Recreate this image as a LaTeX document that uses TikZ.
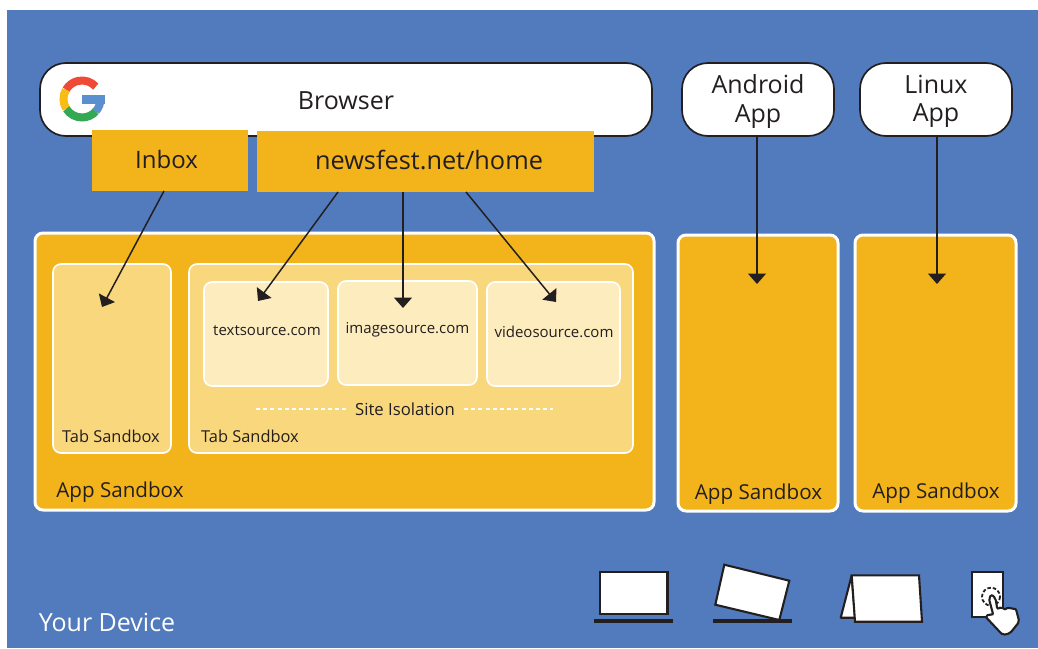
\documentclass[tikz,border=0pt]{standalone}
\usepackage{fontspec}
\setmainfont{Open Sans}
\usetikzlibrary{arrows.meta}

\definecolor{devblue}{RGB}{82,123,189}
\definecolor{sandgold}{RGB}{243,179,27}
\definecolor{tabgold}{RGB}{249,215,124}
\definecolor{sitegold}{RGB}{253,236,189}
\definecolor{inkdark}{RGB}{35,31,32}

\tikzset{
	appbox/.style={draw=inkdark,fill=white,line width=1.7,rounded corners=26,inner sep=0,outer sep=0},
	tabbar/.style={fill=sandgold,inner sep=0,outer sep=0},
	sandbox/.style={draw=white,fill=sandgold,line width=3,rounded corners=8,inner sep=0,outer sep=0},
	tabbox/.style={draw=white,fill=tabgold,line width=1.6,rounded corners=8,inner sep=0,outer sep=0},
	sitebox/.style={draw=white,fill=sitegold,line width=1.6,rounded corners=8,inner sep=0,outer sep=0},
	applabel/.style={text=inkdark,inner sep=0,align=center,font=\fontsize{25}{28.5}\selectfont},
	biglabel/.style={text=inkdark,inner sep=0,font=\fontsize{25.3}{29}\selectfont},
	midlabel/.style={text=inkdark,inner sep=0,font=\fontsize{20.6}{24}\selectfont},
	smalllabel/.style={text=inkdark,inner sep=0,font=\fontsize{16.4}{19}\selectfont},
	sitelabel/.style={text=inkdark,inner sep=0,font=\fontsize{15}{17}\selectfont},
	flow/.style={draw=inkdark,line width=1.5,-{Triangle[width=18,length=10.5]}},
	icon/.style={draw=inkdark,fill=white,line width=2.1,line join=miter},
	iconbase/.style={draw=inkdark,line width=3.2},
}

\begin{document}
\begin{tikzpicture}
	[x=1pt,y=-1pt]

\useasboundingbox (0,0) rectangle (1038,648);
\fill[devblue] (7,10) rectangle (1038,648);

	% top row
	\node[appbox,minimum width=612,minimum height=73] (browser) at (346,99.5) {};
	\node[appbox,minimum width=152,minimum height=73] (android) at (758,99.5) {};
	\node[appbox,minimum width=152,minimum height=73] (linux) at (936,99.5) {};
	\node[applabel] (browserlabel) at (346,100.5) {Browser};
	\node[applabel] (androidlabel) at (758,101.5) {Android\\App};
	\node[applabel] (linuxlabel) at (936,101.5) {Linux\\App};

	\node[tabbar,minimum width=156,minimum height=61] (inbox) at (170,160.5) {};
	\node[tabbar,minimum width=337,minimum height=61] (news) at (425.5,161.5) {};
	\node[applabel,font=\fontsize{24}{29}\selectfont] (inboxlabel) at (166.5,159) {Inbox};
	\node[biglabel] (newslabel) at (429,160) {newsfest.net/home};

	% sandboxes
	\node[sandbox,minimum width=619,minimum height=277] (mainsand) at (344.5,371.5) {};
	\node[sandbox,minimum width=160,minimum height=276] (androidsand) at (758,373) {};
	\node[sandbox,minimum width=161,minimum height=276] (linuxsand) at (935.5,373) {};
	\node[midlabel] (mainsandlabel) at (120,492) {App Sandbox};
	\node[midlabel] (androidsandlabel) at (758.5,494) {App Sandbox};
	\node[midlabel] (linuxsandlabel) at (936,493) {App Sandbox};

	\node[tabbox,minimum width=118,minimum height=189] (tabone) at (112,358.5) {};
	\node[tabbox,minimum width=444,minimum height=189] (tabtwo) at (411,358.5) {};
	\node[smalllabel] (tabonelabel) at (111,436.5) {Tab Sandbox};
	\node[smalllabel] (tabtwolabel) at (250,436.5) {Tab Sandbox};

	\node[sitebox,minimum width=124,minimum height=104] (textbox) at (266,334) {};
	\node[sitebox,minimum width=139,minimum height=104] (imagebox) at (407.5,333) {};
	\node[sitebox,minimum width=133,minimum height=104] (videobox) at (553.5,334) {};
	\node[sitelabel] (textlabel) at (267,331) {textsource.com};
	\node[sitelabel] (imagelabel) at (407.5,330) {imagesource.com};
	\node[sitelabel] (videolabel) at (554,332) {videosource.com};

	\node[smalllabel,font=\fontsize{16.7}{19}\selectfont] (isolation) at (405,409.5) {Site Isolation};
	\coordinate (dashleft) at (256,409);
	\coordinate (dashright) at (553,409);
	\draw[white,line width=1.2,dash pattern=on 4 off 3.2] (dashleft)--([xshift=-9,yshift=.5]isolation.west);
	\draw[white,line width=1.2,dash pattern=on 4 off 3.2] ([xshift=9,yshift=.5]isolation.east)--(dashright);

	\node[text=white,inner sep=0,font=\fontsize{25}{30}\selectfont] (device) at (107,622.5) {Your Device};

	% arrows
	\coordinate (tiptab) at (102,307);
	\coordinate (tiptext) at (258,301);
	\coordinate (tipimage) at (403,308);
	\coordinate (tipvideo) at (556,302);
	\coordinate (tipandroid) at (757,284);
	\coordinate (tiplinux) at (937,284);
	\draw[flow] ([xshift=-6]inbox.south)--(tiptab);
	\draw[flow] ([xshift=-87.5]news.south)--(tiptext);
	\draw[flow] (news.south -| tipimage)--(tipimage);
	\draw[flow] ([xshift=40.5]news.south)--(tipvideo);
	\draw[flow] (android.south -| tipandroid)--(tipandroid);
	\draw[flow] (linux.south -| tiplinux)--(tiplinux);

	% logo
\begin{scope}[shift={(82,99)},y=1pt,line width=8]
	\draw[color={rgb,255:red,239;green,74;blue,54}] (42:18.5) arc (42:150:18.5);
	\draw[color={rgb,255:red,249;green,188;blue,21}] (150:18.5) arc (150:212:18.5);
	\draw[color={rgb,255:red,52;green,168;blue,83}] (212:18.5) arc (212:318:18.5);
	\draw[color={rgb,255:red,91;green,143;blue,208}] (318:18.5) arc (318:360:18.5);
	\fill[color={rgb,255:red,91;green,143;blue,208}] (0,4) rectangle (22.5,-5);
\end{scope}

	% device poses
	\draw[icon] (600,572) rectangle (667.5,614);
	\draw[iconbase] (594,621)--++(79,0);

	\draw[icon] (724.3,564.7)--(789.3,580.7)--(779.3,620)--(715.3,604.7)--cycle;
	\draw[iconbase] (713,621)--++(79,0);

	\draw[icon,line join=bevel] (851.7,575.3)--(840.7,617.7)--(855,617.7)--cycle;
	\draw[icon] (851.7,575.3)--(919,575.3)--(922,621.7)--(855,621.7)--cycle;

	\draw[icon] (972,572) rectangle (1003.3,616.7);
	\draw[inkdark,line width=1.8,dash pattern=on 3.5 off 2] (991,596.7) circle (9);
	\draw[icon,rounded corners=2] (988.8,598.3)--(991.7,594.5)--(995.5,598.3)--(997.3,609.3)--(1001.7,606.7)--(1005,610)--(1008.3,606.7)--(1011.7,609.3)--(1015.7,608.3)--(1019.3,621.7)--(1010,633.3)--(1002.7,635)--(985.5,616.7)--(989.3,614)--(993.3,615)--cycle;

\end{tikzpicture}
\end{document}
